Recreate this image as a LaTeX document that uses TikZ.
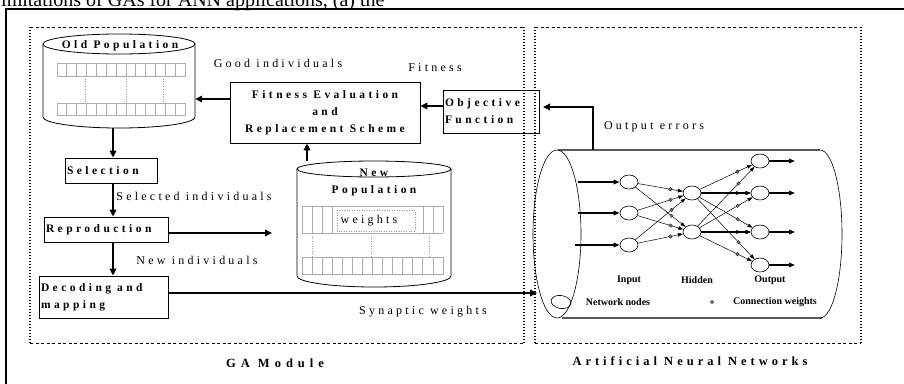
\documentclass[tikz,border=0pt]{standalone}
\usepackage{fontspec}
\setmainfont{Liberation Serif}
\newfontfamily\spc[LetterSpace=30]{Liberation Serif}
\newfontfamily\spcn[LetterSpace=27]{Liberation Serif}
\newfontfamily\spcw[LetterSpace=40]{Liberation Serif}
\newfontfamily\spcm[LetterSpace=32]{Liberation Serif}
\usetikzlibrary{arrows.meta,shapes.geometric}
\begin{document}
\begin{tikzpicture}[x=1pt,y=-1pt,
 arr/.style={line width=1.8pt,-{Triangle[length=7pt,width=6.5pt]}},
 thinarr/.style={line width=0.5pt,-{Triangle[length=5pt,width=3.5pt]}},
 box/.style={draw,line width=0.8pt,inner sep=2pt},
 btxt/.style={font=\spc\bfseries\fontsize{11.5}{17}\selectfont},
 mtxt/.style={font=\spcw\bfseries\fontsize{12.5}{14}\selectfont},
 mtxtb/.style={font=\spcm\bfseries\fontsize{12.5}{14}\selectfont},
 ntxt/.style={font=\spcn\fontsize{12}{13}\selectfont},
 stxt/.style={font=\bfseries\fontsize{10}{11}\selectfont},
 cell/.style={draw=gray!65,line width=0.8pt},
 vdot/.style={draw=gray!80,dash pattern=on 1pt off 1.5pt,line width=0.5pt},
 modtop/.style={line width=0.8pt,dash pattern=on 3pt off 2.5pt},
 modside/.style={line width=1.4pt,dash pattern=on 1.3pt off 1.7pt},
 nn/.style={draw,ellipse,minimum width=18pt,minimum height=14pt,inner sep=0,line width=0.6pt},
 wdot/.style={circle,fill=gray,draw=black,line width=0.3pt,minimum size=3.5pt,inner sep=0}
]
\clip (0,0) rectangle (904,383);
\fill[white] (0,0) rectangle (904,383);

% caption fragment and frame
\node[anchor=base west,inner sep=0,font=\fontsize{20}{22}\selectfont] (cap) at (1,6.5) {imitations of GAs for ANN applications, (a) the};
\draw[line width=2pt] (6,400) -- (6,9) -- (910,9);

% module frames
\draw[modtop] (30,27) -- (524,27) (30,343) -- (524,343);
\draw[modside] (30,27) -- (30,343) (524,27) -- (524,343);
\draw[modtop] (535,27) -- (861,27) (535,343) -- (861,343);
\draw[modside] (535,27) -- (535,343) (861,27) -- (861,343);
\node[mtxt] (gal) at (275,363) {GA Module};
\node[mtxtb] (annl) at (690,361) {Artificial Neural Networks};

% Old population cylinder
\node[inner sep=0,minimum width=152pt,minimum height=94pt] (oldpop) at (119,81) {};
\draw[line width=0.8pt,fill=white] (119,44) ellipse [x radius=76, y radius=10];
\draw[line width=0.8pt] (43,44) -- (43,117) arc [start angle=180,end angle=0,x radius=76,y radius=11] -- (195,44);
\node[btxt] (oldt) at (120,46) {Old Population};
\foreach \i in {0,...,12} \draw[cell] (57+\i*9.85,63) rectangle ++(9.85,13);
\foreach \i in {0,...,12} \draw[cell] (57+\i*9.85,103) rectangle ++(9.85,12);
\foreach \x in {85,126,163} \draw[vdot] (\x,76) -- (\x,103);

% New population cylinder
\node[inner sep=0,minimum width=154pt,minimum height=127pt] (newpop) at (374,224.5) {};
\draw[line width=0.8pt] (374,169) ellipse [x radius=77, y radius=8];
\draw[line width=0.8pt] (297,169) -- (297,276) arc [start angle=180,end angle=0,x radius=77,y radius=11] -- (451,169);
\node[btxt,align=center] (newt) at (374,182) {New\\Population};
\draw[cell] (302,206) -- (443,206) (302,233) -- (443,233);
\foreach \x in {302,312,322,332,423,433,443} \draw[cell] (\x,206) -- (\x,233);
\draw[vdot] (337,210) rectangle (415,231);
\node[ntxt] (wt) at (369,221) {weights};
\foreach \i in {0,...,13} \draw[cell] (302+\i*10.07,257) rectangle ++(10.07,17);
\foreach \x in {312,371,429} \draw[vdot] (\x,233) -- (\x,257);

% GA boxes
\node[box,btxt,align=center,minimum width=190pt,minimum height=61pt] (fit) at (325,112.5) {Fitness Evaluation\\and\\Replacement Scheme};
\node[box,btxt,align=left,minimum width=96pt,minimum height=43pt,text width=92pt] (obj) at (491,111.5) {Objective\\Function};
\node[box,btxt,align=left,minimum width=92pt,minimum height=25pt,text width=88pt] (sel) at (111,170.5) {Selection};
\node[box,btxt,align=left,minimum width=124pt,minimum height=25pt,text width=120pt] (rep) at (106,229.5) {Reproduction};
\node[box,btxt,align=left,minimum width=129pt,minimum height=42pt,text width=125pt] (dec) at (103.5,297) {Decoding\hspace{6pt}and\\mapping};

% texts
\node[ntxt] (t1) at (278,63) {Good individuals};
\node[ntxt] (t2) at (435,68) {Fitness};
\node[ntxt] (t3) at (654,127) {Output errors};
\node[ntxt] (t4) at (194,196) {Selected individuals};
\node[ntxt] (t5) at (197,260) {New individuals};
\node[ntxt] (t6) at (423,312) {Synaptic weights};

% ANN cylinder
\node[inner sep=0,minimum width=309pt,minimum height=168pt] (ann) at (687.5,234) {};
\draw[gray!70!black,line width=1.2pt] (558,150) -- (820,150) (562,318) -- (822,318);
\draw[line width=0.6pt] (557,234) ellipse [x radius=24, y radius=84];
\draw[line width=0.6pt] (820,150) arc [start angle=-90,end angle=90,x radius=22,y radius=84];

% network
\node[nn] (I1) at (629,182) {};
\node[nn] (I2) at (629,213) {};
\node[nn] (I3) at (629,245) {};
\node[nn] (H1) at (692,193) {};
\node[nn] (H2) at (692,232) {};
\node[nn] (O1) at (760,161) {};
\node[nn] (O2) at (760,193) {};
\node[nn] (O3) at (760,232) {};
\node[nn] (O4) at (760,265) {};
\foreach \a in {I1,I2,I3} \foreach \b in {H1,H2}
  \draw[thinarr] (\a) -- (\b) node[wdot,pos=0.72] {};
\foreach \a in {H1,H2} \foreach \b in {O1,O2,O3,O4}
  \draw[thinarr] (\a) -- (\b) node[wdot,pos=0.72] {};
\draw[line width=1.2pt,-{Triangle[length=5pt,width=4pt]}] (H1) -- (O2);
\draw[line width=1.2pt,-{Triangle[length=5pt,width=4pt]}] (H2) -- (O3);
\coordinate (in1) at (578,182);
\coordinate (in2) at (578,213);
\coordinate (in3) at (575,245);
\draw[line width=1.4pt,-{Triangle[length=6pt,width=4.5pt]}] (in1) -- (I1);
\draw[line width=1.4pt,-{Triangle[length=6pt,width=4.5pt]}] (in2) -- (I2);
\draw[line width=1.4pt,-{Triangle[length=6pt,width=4.5pt]}] (in3) -- (I3);
\foreach \o/\y in {O1/161,O2/193,O3/232,O4/265} {
  \coordinate (e\o) at (795,\y);
  \draw[line width=1.4pt,-{Triangle[length=6pt,width=4.5pt]}] (\o) -- (e\o);
}
\node[stxt] (li) at (629,280) {Input};
\node[stxt] (lh) at (697,280) {Hidden};
\node[stxt] (lo) at (770,280) {Output};
\node[nn,minimum width=20pt,minimum height=13pt,rotate=-10] (leg) at (561,302) {};
\node[stxt] (ln) at (618,302) {Network nodes};
\node[wdot] (ld) at (712,302) {};
\node[stxt] (lc) at (775,302) {Connection weights};

% connectors
\coordinate (f1) at (230,99);
\draw[arr] (fit.west |- f1) -- (oldpop.east |- f1);
\coordinate (f2) at (443,106);
\draw[arr] (obj.west |- f2) -- (fit.east |- f2);
\coordinate (oe) at (593,150);
\coordinate (oe1) at (593,107);
\coordinate (oe2) at (543,107);
\draw[arr] (oe) -- (oe1) -- (oe2);
\coordinate (f3) at (307,0);
\draw[arr] (newpop.north -| f3) -- (fit.south -| f3);
\coordinate (f4) at (113,0);
\draw[arr] (oldpop.south -| f4) -- (sel.north -| f4);
\draw[arr] (sel.south -| f4) -- (rep.north -| f4);
\draw[arr] (rep.south -| f4) -- (dec.north -| f4);
\coordinate (f5) at (272,233);
\draw[arr] (rep.east |- f5) -- (f5);
\coordinate (f6) at (537,293);
\draw[arr] (dec.east |- f6) -- (f6);
\end{tikzpicture}
\end{document}
